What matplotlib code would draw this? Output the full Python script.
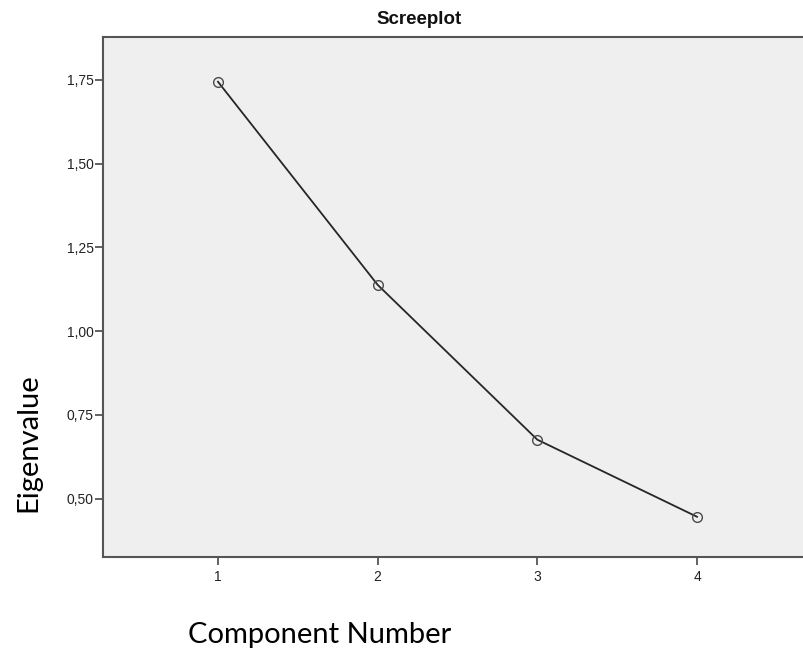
import matplotlib
matplotlib.use("Agg")
import matplotlib.pyplot as plt

# scree plot values
components = [1, 2, 3, 4]
eigenvalues = [1.744, 1.138, 0.676, 0.446]
y_ticks = [0.50, 0.75, 1.00, 1.25, 1.50, 1.75]
y_tick_labels = ["0,50", "0,75", "1,00", "1,25", "1,50", "1,75"]

W, H = 804, 654
fig = plt.figure(figsize=(W / 100, H / 100), dpi=100)

# plot frame runs past the right edge of the picture
ax = fig.add_axes([103 / W, (H - 557) / H, (812 - 103) / W, (557 - 36.5) / H])
ax.set_facecolor("#efefef")
ax.plot(components, eigenvalues, color="#262626", linewidth=1.3,
        marker="o", markersize=7, markerfacecolor="none",
        markeredgecolor="#4a4a4a", markeredgewidth=1.0)

ax.set_xlim(0.28, 4.72)
ax.set_ylim(0.326, 1.879)
ax.set_xticks(components)
ax.set_xticklabels([str(c) for c in components])
ax.set_yticks(y_ticks)
ax.set_yticklabels(y_tick_labels)

for side in ["left", "top", "bottom", "right"]:
    ax.spines[side].set_color("#555555")
    ax.spines[side].set_linewidth(1.5)

ax.tick_params(axis="both", direction="out", length=6, width=1.3,
               color="#555555", labelsize=10, labelcolor="#222222")
ax.tick_params(axis="y", pad=0.8)
ax.tick_params(axis="x", pad=3.5)
for lbl in ax.get_xticklabels() + ax.get_yticklabels():
    lbl.set_family("Liberation Sans")

fig.text(419 / W, (H - 20) / H, "Screeplot", ha="center", va="center",
         fontsize=13.5, fontweight="bold", family="Liberation Sans", color="#111111")
fig.text(28 / W, (H - 443) / H, "Eigenvalue", rotation=90, ha="center", va="center",
         fontsize=21, family="Lato", color="#000000")
fig.text(320 / W, (H - 643) / H, "Component Number", ha="center", va="baseline",
         fontsize=21, family="Lato", color="#000000")

fig.savefig("out.png", dpi=100)
